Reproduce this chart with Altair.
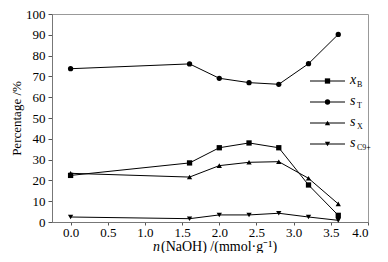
import altair as alt
import pandas as pd

naoh = [0.0, 1.6, 2.0, 2.4, 2.8, 3.2, 3.6]
x_B = [22.4, 28.4, 35.7, 38.0, 35.7, 17.8, 3.2]
s_T = [73.7, 76.0, 69.1, 67.0, 66.2, 76.1, 90.2]
s_X = [23.4, 21.6, 27.1, 28.7, 29.0, 21.0, 8.7]
s_C = [2.4, 1.6, 3.4, 3.4, 4.2, 2.4, 0.8]

series_names = ["xB", "sT", "sX", "sC9+"]
series_main = ["x", "s", "s", "s"]
series_sub = ["B", "T", "X", "C9+"]
series_shapes = ["square", "circle", "triangle-up", "triangle-down"]
series_vals = [x_B, s_T, s_X, s_C]

rows = []
for name, vals in zip(series_names, series_vals):
    for xv, yv in zip(naoh, vals):
        rows.append({"n": xv, "v": yv, "series": name})
df = pd.DataFrame(rows)

FONT = "Liberation Serif"

xscale = alt.Scale(domain=[-0.25, 4.0], nice=False, zero=False)
yscale = alt.Scale(domain=[0, 100], nice=False)
shape_scale = alt.Scale(domain=series_names, range=series_shapes)

base = alt.Chart(df).encode(
    x=alt.X("n:Q", scale=xscale,
            axis=alt.Axis(values=[0, 0.5, 1, 1.5, 2, 2.5, 3, 3.5, 4], format=".1f",
                          title=None, grid=False, tickSize=3, labelPadding=1)),
    y=alt.Y("v:Q", scale=yscale,
            axis=alt.Axis(values=list(range(0, 101, 10)), title="Percentage /%",
                          grid=False, tickSize=4, labelPadding=3, titlePadding=2)),
    detail="series:N",
)

lines = base.mark_line(color="black", strokeWidth=1)
points = base.mark_point(filled=True, color="black", size=28, opacity=1).encode(
    shape=alt.Shape("series:N", scale=shape_scale, legend=None)
)

layers = [lines, points]

# x axis title with italic n
one = pd.DataFrame({"a": [0]})
layers.append(alt.Chart(one).mark_text(text="n", font=FONT, fontSize=14, fontStyle="italic",
                                       align="right", baseline="middle").encode(
    x=alt.value(108), y=alt.value(233)))
layers.append(alt.Chart(one).mark_text(text="(NaOH) /(mmol·g⁻¹)", font=FONT, fontSize=14,
                                       align="left", baseline="middle").encode(
    x=alt.value(109), y=alt.value(233)))

# manual legend
leg_y = [67, 88, 109, 130]
for i, (name, main, sub, shp) in enumerate(zip(series_names, series_main, series_sub, series_shapes)):
    yy = leg_y[i]
    layers.append(alt.Chart(one).mark_rule(color="black", strokeWidth=1).encode(
        x=alt.value(258), x2=alt.value(293), y=alt.value(yy)))
    layers.append(alt.Chart(one).mark_point(shape=shp, filled=True, color="black", size=28, opacity=1).encode(
        x=alt.value(275.5), y=alt.value(yy)))
    layers.append(alt.Chart(one).mark_text(text=main, font=FONT, fontSize=14, fontStyle="italic",
                                           align="left", baseline="middle").encode(
        x=alt.value(298), y=alt.value(yy - 1)))
    layers.append(alt.Chart(one).mark_text(text=sub, font=FONT, fontSize=8,
                                           align="left", baseline="middle").encode(
        x=alt.value(305), y=alt.value(yy + 4)))

chart = alt.layer(*layers).properties(
    width=316, height=208,
    autosize=alt.AutoSizeParams(type="none"),
    padding={"left": 44, "top": 6, "right": 12, "bottom": 31},
).configure_view(stroke="#999999", strokeWidth=1).configure_axis(
    labelFont=FONT, titleFont=FONT, labelFontSize=13, titleFontSize=13,
    titleFontWeight="normal", labelColor="black", titleColor="black",
    domainColor="#777777", tickColor="#555555"
)

chart.save("out.html", embed_options={"renderer": "svg", "actions": False})
